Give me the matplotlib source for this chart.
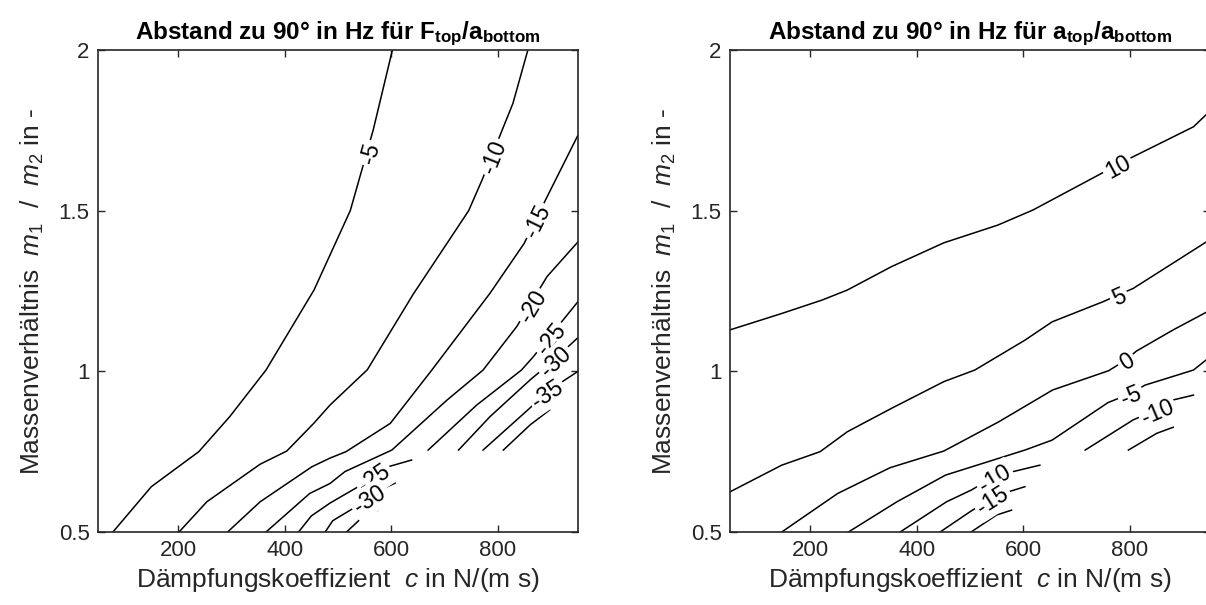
import numpy as np
import matplotlib
matplotlib.use("Agg")
import matplotlib.pyplot as plt

# ---------------- data ----------------
xlim = (50, 950)
ylim = (0.5, 2.0)
xticks = [200, 400, 600, 800]
yticks = [0.5, 1.0, 1.5, 2.0]
ytick_labels = ["0.5", "1", "1.5", "2"]

titles = [r"Abstand zu 90° in Hz für $\mathbf{F_{top}/a_{bottom}}$",
          r"Abstand zu 90° in Hz für $\mathbf{a_{top}/a_{bottom}}$"]
xlabel = r"Dämpfungskoeffizient  $c$ in N/(m s)"
ylabel = r"Massenverhältnis  $m_1$  /  $m_2$ in -"

# Left panel: contour pieces (x = c, y = m1/m2)
left_x = [
    [78, 150, 239, 297, 365, 455, 523, 566, 602],                        # -5
    [202, 254, 354, 404, 455, 485, 555, 641, 745, 770, 828, 856],        # -10
    [293, 354, 451, 485, 515, 598, 675, 785, 849, 892, 950],             # -15
    [365, 447, 485, 513, 601, 704, 772, 835, 892, 950],                  # -20
    [669, 760, 844, 866, 950],                                           # -25 (upper)
    [726, 785, 860, 901, 950],                                           # -30 (upper)
    [772, 860, 888, 950],                                                # -35 (upper)
    [810, 860, 897],                                                     # unlabeled piece
    [426, 450, 485, 538, 566, 594, 638],                                 # -25 (lower)
    [476, 490, 530, 554, 579, 607],                                      # -30 (lower)
    [516, 547, 575],                                                     # -35 (lower)
]
left_y = [
    [0.5, 0.641, 0.75, 0.859, 1.004, 1.253, 1.5, 1.751, 2.0],
    [0.5, 0.594, 0.711, 0.752, 0.839, 0.895, 1.005, 1.24, 1.5, 1.595, 1.834, 2.0],
    [0.5, 0.594, 0.703, 0.73, 0.75, 0.838, 1.002, 1.243, 1.398, 1.543, 1.735],
    [0.5, 0.62, 0.651, 0.688, 0.755, 0.91, 1.004, 1.139, 1.295, 1.403],
    [0.755, 0.895, 1.004, 1.045, 1.217],
    [0.755, 0.859, 0.973, 1.03, 1.105],
    [0.755, 0.886, 0.932, 1.0],
    [0.755, 0.833, 0.88],
    [0.5, 0.55, 0.59, 0.641, 0.672, 0.703, 0.724],
    [0.5, 0.535, 0.575, 0.605, 0.631, 0.652],
    [0.5, 0.548, 0.568],
]
left_label_text = ["-5", "-10", "-15", "-20", "-25", "-30", "-35", "-25", "-30"]
left_label_x = [556, 788, 869, 862, 896, 905, 890, 566, 556]
left_label_y = [1.68, 1.668, 1.47, 1.205, 1.105, 1.035, 0.935, 0.672, 0.607]
left_label_piece = [0, 1, 2, 3, 4, 5, 6, 8, 9]

# Right panel: contour pieces
right_x = [
    [50, 147, 223, 270, 353, 451, 552, 618, 741, 775, 800, 919, 950],    # 10
    [50, 147, 219, 270, 353, 451, 509, 603, 654, 750, 778, 806, 950],    # 5
    [147, 252, 350, 451, 554, 655, 760, 792, 812, 881, 950],             # 0
    [272, 363, 454, 603, 654, 759, 800, 828, 919, 950],                  # -5
    [716, 806, 850, 881, 919],                                           # -10 (upper)
    [797, 850, 881],                                                     # unlabeled piece
    [369, 456, 503, 544, 581, 631],                                      # -10 (lower)
    [444, 500, 540, 572, 603],                                           # -15 (lower)
    [502, 550, 578],                                                     # unlabeled piece
]
right_y = [
    [1.129, 1.18, 1.222, 1.253, 1.326, 1.4, 1.455, 1.502, 1.611, 1.642, 1.663, 1.761, 1.81],
    [0.625, 0.708, 0.75, 0.812, 0.885, 0.968, 1.004, 1.097, 1.154, 1.217, 1.238, 1.258, 1.41],
    [0.5, 0.62, 0.7, 0.752, 0.843, 0.942, 1.002, 1.035, 1.063, 1.129, 1.19],
    [0.5, 0.594, 0.677, 0.755, 0.786, 0.903, 0.93, 0.957, 1.004, 1.045],
    [0.755, 0.849, 0.88, 0.911, 0.926],
    [0.755, 0.807, 0.826],
    [0.5, 0.594, 0.631, 0.672, 0.688, 0.708],
    [0.5, 0.563, 0.605, 0.625, 0.641],
    [0.5, 0.553, 0.568],
]
right_label_text = ["10", "5", "0", "-5", "-10", "-10", "-15"]
right_label_x = [775, 778, 792, 800, 850, 544, 540]
right_label_y = [1.642, 1.238, 1.035, 0.93, 0.88, 0.672, 0.605]
right_label_piece = [0, 1, 2, 3, 4, 6, 7]

# ---------------- styling ----------------
plt.rcParams["font.family"] = ["Liberation Sans", "DejaVu Sans"]
plt.rcParams["mathtext.fontset"] = "custom"
plt.rcParams["mathtext.rm"] = "Liberation Sans"
plt.rcParams["mathtext.it"] = "Liberation Sans:italic"
plt.rcParams["mathtext.bf"] = "Liberation Sans:bold"

GRAY = "#262626"

fig = plt.figure(figsize=(12.06, 6.05), dpi=100)
W, H = 1206.0, 605.0
ax_l = fig.add_axes([98 / W, (H - 532) / H, 480 / W, 482 / H])
ax_r = fig.add_axes([730 / W, (H - 532) / H, 480 / W, 482 / H])


def label_angle(ax, xs, ys, lx, ly):
    pts = ax.transData.transform(np.column_stack([xs, ys]))
    p = ax.transData.transform((lx, ly))
    best, ang = None, 0.0
    for i in range(len(pts) - 1):
        a, b = pts[i], pts[i + 1]
        d = b - a
        t = np.clip(np.dot(p - a, d) / max(np.dot(d, d), 1e-9), 0, 1)
        dist = np.linalg.norm(a + t * d - p)
        if best is None or dist < best:
            best = dist
            ang = np.degrees(np.arctan2(d[1], d[0]))
    if ang > 90:
        ang -= 180
    if ang <= -90:
        ang += 180
    return ang


def draw(ax, xs_list, ys_list, ltxt, lx, ly, lpiece, title):
    ax.set_xlim(*xlim)
    ax.set_ylim(*ylim)
    for xs, ys in zip(xs_list, ys_list):
        ax.plot(xs, ys, color="black", lw=1.1, solid_joinstyle="miter", zorder=2)
    for t, x, y, k in zip(ltxt, lx, ly, lpiece):
        ang = label_angle(ax, xs_list[k], ys_list[k], x, y)
        ax.text(x, y, t, rotation=ang, rotation_mode="anchor", ha="center",
                va="center_baseline", fontsize=16.5, color="black", zorder=2.2,
                clip_on=True,
                bbox=dict(boxstyle="square,pad=0.12", fc="white", ec="none"))
    ax.set_xticks(xticks)
    ax.set_yticks(yticks)
    ax.set_yticklabels(ytick_labels)
    ax.tick_params(direction="in", top=True, right=True, length=5, width=1.0,
                   labelsize=16, colors=GRAY, pad=6)
    for s in ax.spines.values():
        s.set_linewidth(1.2)
        s.set_color(GRAY)
        s.set_zorder(4)
    ax.set_xlabel(xlabel, fontsize=19, color=GRAY, labelpad=3)
    ax.set_ylabel(ylabel, fontsize=19, color=GRAY, labelpad=9)
    ax.set_title(title, fontsize=17.5, fontweight="bold", color="black", pad=8)


draw(ax_l, left_x, left_y, left_label_text, left_label_x, left_label_y,
     left_label_piece, titles[0])
draw(ax_r, right_x, right_y, right_label_text, right_label_x, right_label_y,
     right_label_piece, titles[1])

fig.savefig("out.png", dpi=100, facecolor="white")
